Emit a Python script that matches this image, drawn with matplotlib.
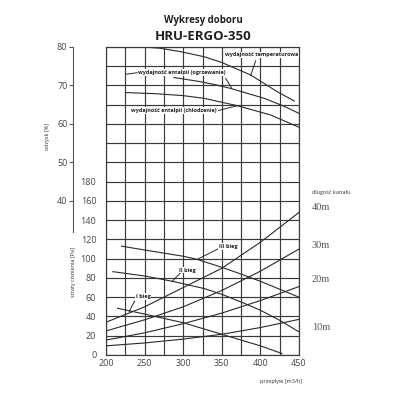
import numpy as np
import matplotlib
matplotlib.use("Agg")
import matplotlib.pyplot as plt

plt.rcParams['font.family'] = ['Open Sans', 'DejaVu Sans']

# przeplyw [m3/h] / odzysk [%] - krzywe sprawnosci (gorna czesc)
temp_q = [243, 270, 297, 327, 350, 387, 422, 444]
temp_eff = [80, 79.6, 78.7, 77.4, 75.9, 72.7, 68.3, 65.9]
ogrz_q = [288, 320, 340, 361, 405, 430, 450]
ogrz_eff = [72, 71, 70.2, 69.2, 66.6, 64.6, 62.7]
chl_q = [225, 265, 300, 327, 370, 413, 450]
chl_eff = [68.1, 67.8, 67.3, 66.6, 64.7, 62.3, 59.1]

# charakterystyki kanalow (dlugosc kanalu)
duct_q = [200, 250, 300, 350, 400, 450]
duct_40 = [34, 50, 70, 90, 117, 148]
duct_30 = [25, 36.5, 50, 67, 87, 110]
duct_20 = [15.5, 23, 32.5, 43.5, 56.5, 71]
duct_10 = [9.5, 12.5, 16.5, 21.5, 28.5, 37]
duct_names = ["40m", "30m", "20m", "10m"]

# biegi wentylatora
bieg3_q = [220, 250, 300, 317, 350, 375, 400, 450]
bieg3 = [113, 109, 102.5, 99.5, 91, 84, 76.5, 60]
bieg2_q = [209, 250, 286, 327, 350, 375, 400, 425, 450]
bieg2 = [86.5, 82, 76.5, 69, 63, 55, 46.5, 36, 24]
bieg1_q = [215, 250, 300, 350, 400, 428]
bieg1 = [48.5, 42.5, 33.5, 21.5, 9.5, 1.5]

x_ticks = [200, 250, 300, 350, 400, 450]
pa_ticks = [0, 20, 40, 60, 80, 100, 120, 140, 160, 180]
eff_ticks = [40, 50, 60, 70, 80]


def eff_to_pa(e):
    return 320 - 4 * (80 - np.asarray(e, dtype=float))


def pa_to_eff(p):
    return 80 - (320 - np.asarray(p, dtype=float)) / 4


W = 400.0
fig = plt.figure(figsize=(4, 4), dpi=100)
ax = fig.add_axes([106 / W, 45 / W, 193 / W, 308.3 / W])

ax.set_xlim(200, 450)
ax.set_ylim(0, 320)
ax.set_xticks(np.arange(200, 451, 25))
ax.set_xticklabels([str(v) if v in x_ticks else "" for v in range(200, 451, 25)])
ax.set_yticks(np.arange(0, 321, 20))
ax.set_yticklabels([str(v) if v in pa_ticks else "" for v in range(0, 321, 20)])
ax.grid(True, color="#3a3a3a", linewidth=0.85)
ax.tick_params(length=0, labelsize=6.5, colors="#444")
ax.tick_params(axis="y", pad=7)
ax.tick_params(axis="x", pad=3)
for s in ax.spines.values():
    s.set_color("#3a3a3a")
    s.set_linewidth(0.85)

lc = "#2a2a2a"
lw = 0.8
ax.plot(temp_q, eff_to_pa(temp_eff), color=lc, lw=lw)
ax.plot(ogrz_q, eff_to_pa(ogrz_eff), color=lc, lw=lw)
ax.plot(chl_q, eff_to_pa(chl_eff), color=lc, lw=lw)
for d in [duct_40, duct_30, duct_20, duct_10]:
    ax.plot(duct_q, d, color=lc, lw=lw)
ax.plot(bieg3_q, bieg3, color=lc, lw=lw)
ax.plot(bieg2_q, bieg2, color=lc, lw=lw)
ax.plot(bieg1_q, bieg1, color=lc, lw=lw)

# opisy krzywych
box = dict(facecolor="white", edgecolor="none", pad=0.6)
tf = dict(fontsize=4, fontweight="bold", color="#222", ha="center", va="center", bbox=box)
ax.text(402, 311.5, "wydajność temperaturowa", **tf)
ax.plot([393.9, 387.3], [305.5, 290], color=lc, lw=0.7)
ax.text(298.8, 293, "wydajność entalpii (ogrzewanie)", **tf)
ax.plot([225.5, 240.5], [291.4, 293], color=lc, lw=0.7)
ax.plot([355, 362.8], [287.2, 277], color=lc, lw=0.7)
ax.text(288, 253.6, "wydajność entalpii (chłodzenie)", **tf)
ax.plot([344.2, 370], [253.6, 258.7], color=lc, lw=0.7)

ax.text(358.5, 112.4, "III bieg", **tf)
ax.plot([345.5, 318], [110.3, 99.2], color=lc, lw=0.7)
ax.text(306, 88.2, "II bieg", **tf)
ax.plot([295.9, 285.9], [84.8, 76.6], color=lc, lw=0.7)
ax.text(248, 60.5, "I bieg", **tf)
ax.plot([237, 230], [56, 45], color=lc, lw=0.7)

# os odzysku
sec = ax.secondary_yaxis(-33 / 193, functions=(pa_to_eff, eff_to_pa))
sec.set_yticks(eff_ticks)
sec.spines["left"].set_bounds(32, 80)
sec.spines["left"].set_color("#555")
sec.spines["left"].set_linewidth(0.8)
sec.tick_params(length=3, width=0.8, color="#555", labelsize=6.5, labelcolor="#444", pad=1)

fig.text(47 / W, 1 - 137 / W, "odzysk [%]", rotation=90, fontsize=4, ha="center", va="center", color="#333")
fig.text(73 / W, 1 - 272 / W, "straty ciśnienia [Pa]", rotation=90, fontsize=4, ha="center", va="center", color="#333")
fig.text(302 / W, 1 - 381 / W, "przepływ [m3/h]", fontsize=4, ha="right", va="center", color="#333")

fig.text(203 / W, 1 - 21 / W, "Wykresy doboru", fontsize=7, fontweight="bold", ha="center", va="center", color="#222")
fig.text(203 / W, 1 - 36 / W, "HRU-ERGO-350", fontsize=9.5, fontweight="bold", ha="center", va="center", color="#222")

fig.text(312 / W, 1 - 193 / W, "długość kanału", fontsize=4, ha="left", va="center", color="#333")
for name, yy in zip(duct_names, [208, 245, 280, 327]):
    fig.text(312 / W, 1 - yy / W, name, fontsize=7.5, ha="left", va="center",
             color="#555", family="Liberation Serif")

fig.savefig("out.png", dpi=100, facecolor="white")
